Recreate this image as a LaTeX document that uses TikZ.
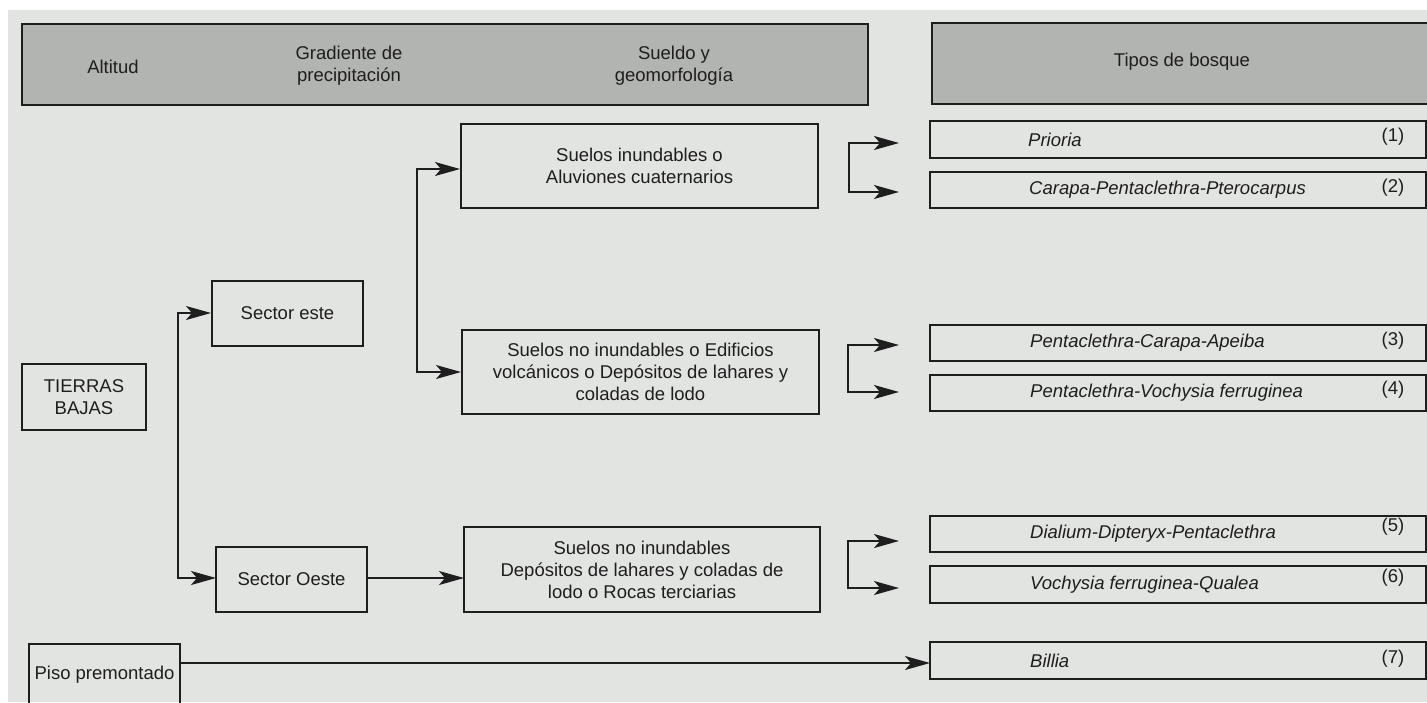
\documentclass[tikz,border=0pt]{standalone}
\usepackage{fontspec}
\setmainfont{Liberation Sans}
\usetikzlibrary{arrows.meta}
\definecolor{bgc}{RGB}{226,228,225}
\definecolor{hdc}{RGB}{178,180,177}
\definecolor{linec}{RGB}{30,30,30}
\begin{document}
\begin{tikzpicture}[x=1pt,y=-1pt,
  box/.style={draw=linec, line width=2pt, inner sep=0pt, outer sep=0pt, align=center,
    text=linec, font=\fontsize{18.5}{22}\selectfont},
  hbox/.style={box, fill=hdc},
  fbox/.style={box, minimum width=496, minimum height=36.5},
  ftext/.style={anchor=west, inner sep=0pt, font=\fontsize{18.5}{22}\selectfont\itshape, text=linec},
  fnum/.style={inner sep=0pt, font=\fontsize{18.5}{22}\selectfont, text=linec},
  htext/.style={align=center, inner sep=0pt, font=\fontsize{18.5}{22}\selectfont, text=linec},
  arr/.style={draw=linec, line width=1.5pt, -{Stealth[length=25pt,width=14pt,inset=6pt]}}]
\clip (0,0) rectangle (1427,702);
\fill[white] (0,0) rectangle (1427,702);
\fill[bgc] (8,10) rectangle (1427,702);

% headers
\node[hbox, minimum width=846, minimum height=81] (h1) at (445,64.5) {};
\node[htext] (hA) at (113,67) {Altitud};
\node[htext] (hG) at (349,66) {Gradiente de\\precipitación};
\node[htext] (hS) at (674,66) {Sueldo y\\geomorfología};
\node[hbox, minimum width=508, minimum height=81] (h2) at (1186,63.5) {};
\node[htext] (hT) at (1182,62) {Tipos de bosque};

% left column
\node[box, minimum width=124, minimum height=66] (tb) at (84,397) {TIERRAS\\BAJAS};
\node[box, minimum width=151, minimum height=78] (piso) at (104.5,683) {};
\node[htext] (pisot) at (104.5,675) {Piso premontado};

% sectors
\node[box, minimum width=151, minimum height=65] (se) at (287.5,313.5) {Sector este};
\node[box, minimum width=151, minimum height=65] (so) at (291.5,579.5) {Sector Oeste};

% soils
\node[box, minimum width=357, minimum height=84] (s1) at (639.5,166) {Suelos inundables o\\Aluviones cuaternarios};
\node[box, minimum width=357, minimum height=84] (s2) at (640.5,372) {Suelos no inundables o Edificios\\volcánicos o Depósitos de lahares y\\coladas de lodo};
\node[box, minimum width=356, minimum height=85] (s3) at (642,569.5) {Suelos no inundables\\Depósitos de lahares y coladas de\\lodo o Rocas terciarias};

% forest types
\node[fbox] (f1) at (1178,139.5) {};
\node[fbox] (f2) at (1178,190) {};
\node[fbox] (f3) at (1178,343) {};
\node[fbox] (f4) at (1178,393) {};
\node[fbox] (f5) at (1178,534) {};
\node[fbox] (f6) at (1178,584.5) {};
\node[fbox] (f7) at (1178,660.5) {};
\node[ftext] (f1t) at ([xshift=98pt]f1.west) {Prioria};
\node[ftext] (f2t) at ([xshift=99pt]f2.west) {Carapa-Pentaclethra-Pterocarpus};
\node[ftext] (f3t) at ([xshift=100pt]f3.west) {Pentaclethra-Carapa-Apeiba};
\node[ftext] (f4t) at ([xshift=100pt]f4.west) {Pentaclethra-Vochysia ferruginea};
\node[ftext] (f5t) at ([xshift=100pt]f5.west) {Dialium-Dipteryx-Pentaclethra};
\node[ftext] (f6t) at ([xshift=100pt]f6.west) {Vochysia ferruginea-Qualea};
\node[ftext] (f7t) at ([xshift=100pt]f7.west) {Billia};
\node[fnum] (n1) at (1393,137) {(1)};
\node[fnum] (n2) at (1393,188) {(2)};
\node[fnum] (n3) at (1393,341) {(3)};
\node[fnum] (n4) at (1393,390) {(4)};
\node[fnum] (n5) at (1393,527) {(5)};
\node[fnum] (n6) at (1393,578) {(6)};
\node[fnum] (n7) at (1393,659) {(7)};

% left trunk
\coordinate (k0) at (178,450);
\coordinate (tse) at (211,313);
\coordinate (tso) at (216,578);
\draw[arr] (k0) |- (tse);
\draw[arr] (k0) |- (tso);

% middle trunk
\coordinate (m0) at (417,270);
\coordinate (ts1) at (460,169);
\coordinate (ts2) at (461,372);
\draw[arr] (m0) |- (ts1);
\draw[arr] (m0) |- (ts2);

% sector oeste to soils 3
\draw[arr] (so.east |- tso) -- (tso -| s3.west);

% branches to forest types
\coordinate (k1) at (849,167);
\coordinate (t1) at (899,143);
\coordinate (t2) at (899,192);
\draw[arr] (k1) |- (t1);
\draw[arr] (k1) |- (t2);
\coordinate (k2) at (848,368);
\coordinate (t3) at (899,345);
\coordinate (t4) at (899,392);
\draw[arr] (k2) |- (t3);
\draw[arr] (k2) |- (t4);
\coordinate (k3) at (848,564);
\coordinate (t5) at (899,541);
\coordinate (t6) at (899,588);
\draw[arr] (k3) |- (t5);
\draw[arr] (k3) |- (t6);

% piso premontado to billia
\coordinate (pb) at (180,663);
\draw[arr] (pb) -- (pb -| f7.west);
\end{tikzpicture}
\end{document}
